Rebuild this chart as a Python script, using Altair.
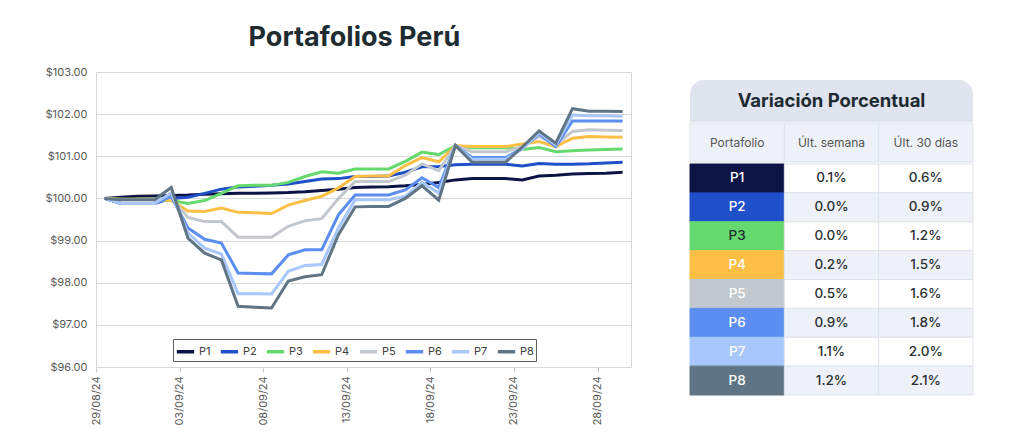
import altair as alt
import pandas as pd

# ---------------- data ----------------
fechas = [
    "2024-08-29", "2024-08-30", "2024-08-31", "2024-09-01", "2024-09-02", "2024-09-03",
    "2024-09-04", "2024-09-05", "2024-09-06", "2024-09-07", "2024-09-08", "2024-09-09",
    "2024-09-10", "2024-09-11", "2024-09-12", "2024-09-13", "2024-09-14", "2024-09-15",
    "2024-09-16", "2024-09-17", "2024-09-18", "2024-09-19", "2024-09-20", "2024-09-21",
    "2024-09-22", "2024-09-23", "2024-09-24", "2024-09-25", "2024-09-26", "2024-09-27",
    "2024-09-28", "2024-09-29",
]

p1 = [100.00, 100.03, 100.05, 100.06, 100.07, 100.08, 100.10, 100.11, 100.12, 100.12, 100.13,
      100.14, 100.16, 100.19, 100.22, 100.26, 100.27, 100.28, 100.30, 100.33, 100.38, 100.44,
      100.47, 100.47, 100.47, 100.44, 100.53, 100.55, 100.58, 100.59, 100.60, 100.62]
p2 = [100.00, 99.88, 99.88, 99.88, 100.00, 100.03, 100.12, 100.22, 100.27, 100.29, 100.31,
      100.34, 100.40, 100.46, 100.47, 100.52, 100.52, 100.53, 100.62, 100.75, 100.76, 100.80,
      100.81, 100.81, 100.81, 100.77, 100.83, 100.81, 100.81, 100.82, 100.84, 100.86]
p3 = [100.00, 99.98, 99.98, 99.98, 99.95, 99.88, 99.95, 100.12, 100.30, 100.31, 100.31,
      100.38, 100.52, 100.63, 100.60, 100.70, 100.70, 100.70, 100.88, 101.10, 101.04, 101.25,
      101.20, 101.20, 101.20, 101.16, 101.21, 101.11, 101.13, 101.15, 101.16, 101.17]
p4 = [100.00, 99.98, 99.98, 99.98, 99.95, 99.70, 99.69, 99.77, 99.67, 99.66, 99.64,
      99.84, 99.95, 100.05, 100.25, 100.52, 100.53, 100.53, 100.78, 100.97, 100.87, 101.25,
      101.23, 101.23, 101.23, 101.29, 101.35, 101.23, 101.43, 101.47, 101.46, 101.45]
p5 = [100.00, 99.97, 99.97, 99.97, 100.02, 99.55, 99.45, 99.45, 99.08, 99.08, 99.08,
      99.34, 99.47, 99.52, 100.00, 100.40, 100.40, 100.40, 100.55, 100.82, 100.66, 101.25,
      101.11, 101.11, 101.11, 101.23, 101.47, 101.27, 101.59, 101.63, 101.62, 101.61]
p6 = [100.00, 99.88, 99.88, 99.88, 100.05, 99.30, 99.03, 98.94, 98.23, 98.22, 98.21,
      98.66, 98.78, 98.78, 99.61, 100.08, 100.08, 100.08, 100.20, 100.49, 100.26, 101.25,
      100.97, 100.97, 100.97, 101.19, 101.53, 101.23, 101.84, 101.84, 101.84, 101.84]
p7 = [100.00, 99.88, 99.88, 99.88, 100.13, 99.18, 98.82, 98.68, 97.74, 97.74, 97.73,
      98.27, 98.41, 98.43, 99.30, 99.97, 99.97, 99.97, 100.05, 100.38, 100.13, 101.25,
      100.93, 100.93, 100.93, 101.17, 101.56, 101.27, 101.98, 101.96, 101.96, 101.95]
p8 = [100.00, 99.97, 99.97, 99.97, 100.26, 99.06, 98.70, 98.54, 97.44, 97.42, 97.40,
      98.04, 98.14, 98.19, 99.14, 99.80, 99.81, 99.81, 100.00, 100.30, 99.96, 101.26,
      100.86, 100.86, 100.86, 101.22, 101.60, 101.31, 102.13, 102.07, 102.07, 102.06]

series = ["P1", "P2", "P3", "P4", "P5", "P6", "P7", "P8"]
valores = [p1, p2, p3, p4, p5, p6, p7, p8]
colores = ["#0c1445", "#1f4fc9", "#66d96e", "#fbbf45", "#c2c8cd", "#5b8ef0", "#a8c7fc", "#5f7585"]
texto_celda = ["#ffffff", "#ffffff", "#1d2b33", "#ffffff", "#ffffff", "#ffffff", "#ffffff", "#ffffff"]

ult_semana = ["0.1%", "0.0%", "0.0%", "0.2%", "0.5%", "0.9%", "1.1%", "1.2%"]
ult_30 = ["0.6%", "0.9%", "1.2%", "1.5%", "1.6%", "1.8%", "2.0%", "2.1%"]
encabezados = ["Portafolio", "Últ. semana", "Últ. 30 días"]
tabla_titulo = "Variación Porcentual"
titulo = "Portafolios Perú"

y_ticks = [96, 97, 98, 99, 100, 101, 102, 103]
x_ticks = [(2024, 8, 29), (2024, 9, 3), (2024, 9, 8), (2024, 9, 13), (2024, 9, 18), (2024, 9, 23), (2024, 9, 28)]

FONT = "Inter"

# ---------------- line chart ----------------
rows = []
for k, (s, vals) in enumerate(zip(series, valores)):
    for f, v in zip(fechas, vals):
        rows.append({"fecha": f + "T12:00:00", "serie": s, "valor": v, "orden": k})
df = pd.DataFrame(rows)

x_vals = [alt.DateTime(year=y, month=m, date=d) for (y, m, d) in x_ticks]

lines = alt.Chart(df).mark_line(strokeWidth=3).encode(
    x=alt.X(
        "fecha:T",
        scale=alt.Scale(domain=[alt.DateTime(year=2024, month=8, date=29),
                                alt.DateTime(year=2024, month=9, date=30)], nice=False),
        axis=alt.Axis(values=x_vals, format="%d/%m/%y", labelAngle=270, grid=False, domain=False,
                      tickSize=5, tickColor="#c8c8c8", labelColor="#595959", labelFontSize=11,
                      labelPadding=4, labelFont=FONT, title=None),
    ),
    y=alt.Y(
        "valor:Q",
        scale=alt.Scale(domain=[96, 103], nice=False, zero=False),
        axis=alt.Axis(values=y_ticks, format="$.2f", ticks=False, domain=False, gridColor="#d9d9d9",
                      labelPadding=9, labelColor="#595959", labelFontSize=11, labelFont=FONT, title=None),
    ),
    color=alt.Color(
        "serie:N",
        scale=alt.Scale(domain=series, range=colores),
        legend=alt.Legend(orient="none", legendX=77, legendY=267, direction="horizontal", columns=8,
                          title=None, symbolType="stroke", symbolStrokeWidth=3.5, symbolSize=300,
                          labelFontSize=11, labelColor="#404040", labelFont=FONT, columnPadding=2,
                          labelOffset=3, strokeColor="#606060", padding=2, fillColor="#ffffff"),
    ),
    order=alt.Order("orden:Q"),
).properties(
    width=535, height=295, view=alt.ViewBackground(stroke="#d9d9d9")
)

# ---------------- table ----------------
TW = 283
spacer = alt.Chart(pd.DataFrame({"a": [0]})).mark_text(text="").properties(width=TW, height=5)

tdf = pd.DataFrame({"t": [tabla_titulo]})
t_bg = alt.Chart(tdf).mark_rect(fill="#dfe4ef", cornerRadiusTopLeft=14, cornerRadiusTopRight=14)
t_txt = alt.Chart(tdf).mark_text(fontSize=18.5, fontWeight="bold", font=FONT, color="#1d2a30").encode(text="t:N")
title_row = alt.layer(t_bg, t_txt).properties(width=TW, height=42)

cols = ["c1", "c2", "c3"]
hdf = pd.DataFrame({"col": cols, "texto": encabezados})
hx = alt.X("col:N", scale=alt.Scale(domain=cols, paddingInner=0, paddingOuter=0), axis=None)
h_bg = alt.Chart(hdf).mark_rect(fill="#eef1f8", stroke="#dfe3ea", strokeWidth=1).encode(x=hx)
h_txt = alt.Chart(hdf).mark_text(fontSize=12, font=FONT, color="#555555").encode(x=hx, text="texto:N")
header_row = alt.layer(h_bg, h_txt).properties(width=TW, height=39)

brows = []
for i, p in enumerate(series):
    bg = "#ffffff" if i % 2 == 0 else "#eef1f8"
    brows.append({"fila": p, "col": "c1", "texto": p, "fondo": colores[i], "borde": colores[i], "tc": texto_celda[i]})
    brows.append({"fila": p, "col": "c2", "texto": ult_semana[i], "fondo": bg, "borde": "#dfe3ea", "tc": "#2b3035"})
    brows.append({"fila": p, "col": "c3", "texto": ult_30[i], "fondo": bg, "borde": "#dfe3ea", "tc": "#2b3035"})
bdf = pd.DataFrame(brows)
by = alt.Y("fila:N", scale=alt.Scale(domain=series, paddingInner=0, paddingOuter=0), axis=None)
b_bg = alt.Chart(bdf).mark_rect(strokeWidth=1).encode(
    x=hx, y=by, fill=alt.Fill("fondo:N", scale=None), stroke=alt.Stroke("borde:N", scale=None)
)
b_txt = alt.Chart(bdf).mark_text(fontSize=13.5, font=FONT, fontWeight=500).encode(
    x=hx, y=by, text="texto:N", color=alt.Color("tc:N", scale=None)
)
body = alt.layer(b_bg, b_txt).properties(width=TW, height=231)

table = alt.vconcat(spacer, title_row, header_row, body, spacing=0)

chart = alt.hconcat(lines, table, spacing=57).properties(
    title=alt.Title(titulo, fontSize=27, font=FONT, fontWeight="bold", color="#1e2b31",
                    anchor="start", frame="bounds", dx=204, offset=14),
    padding={"left": 36, "top": 15, "right": 5, "bottom": 5},
).resolve_scale(color="independent").resolve_legend(color="independent").configure_view(stroke=None)

chart.save("out.html", embed_options={"renderer": "svg", "actions": False})
